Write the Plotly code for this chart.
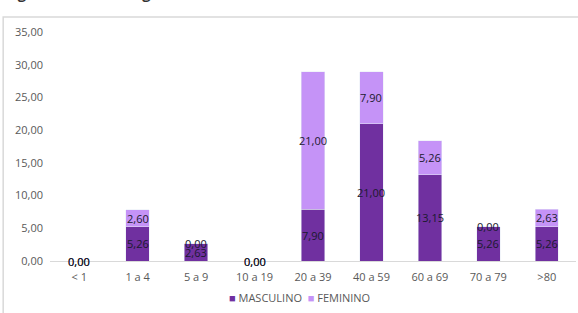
import plotly.graph_objects as go

categories = ["< 1", "1 a 4", "5 a 9", "10 a 19", "20 a 39", "40 a 59", "60 a 69", "70 a 79", ">80"]
masculino = [0.00, 5.26, 2.63, 0.00, 7.90, 21.00, 13.15, 5.26, 5.26]
feminino = [0.00, 2.60, 0.00, 0.00, 21.00, 7.90, 5.26, 0.00, 2.63]
y_ticks = [0, 5, 10, 15, 20, 25, 30, 35]
series_names = ["MASCULINO", "FEMININO"]
title_text = "segundo ano do diagnóstico 2022."

COL_M = "#7030A0"
COL_F = "#C593F7"
FONT = "Open Sans"

def fmt(v):
    return f"{v:.2f}".replace(".", ",")

fig = go.Figure()
fig.add_trace(go.Bar(name=series_names[0], x=categories, y=masculino, marker_color=COL_M))
fig.add_trace(go.Bar(name=series_names[1], x=categories, y=feminino, marker_color=COL_F))

annotations = []
for c, m, f in zip(categories, masculino, feminino):
    annotations.append(dict(x=c, y=m / 2, text=fmt(m), showarrow=False,
                            font=dict(family=FONT, size=11, color="#1a1a2e"),
                            xref="x", yref="y"))
    annotations.append(dict(x=c, y=m + f / 2, text=fmt(f), showarrow=False,
                            font=dict(family=FONT, size=11, color="#1a1a2e"),
                            xref="x", yref="y"))

annotations.append(dict(x=-0.096, y=1.0, xref="paper", yref="paper", xanchor="left",
                        yanchor="bottom", yshift=26.5, text="<b>" + title_text + "</b>", showarrow=False,
                        font=dict(family=FONT, size=14.5, color="#333333")))

# legend drawn as text with coloured squares
legend_text = (f'<span style="color:{COL_M}">■</span> {series_names[0]}'
               f'&nbsp;&nbsp;<span style="color:{COL_F}">■</span> {series_names[1]}')
annotations.append(dict(x=0.475, y=-0.16, xref="paper", yref="paper", xanchor="center",
                        yanchor="middle", text=legend_text, showarrow=False,
                        font=dict(family=FONT, size=11, color="#595959")))

fig.update_layout(
    width=578, height=313,
    margin=dict(l=50, r=2, t=32, b=52, autoexpand=False),
    paper_bgcolor="white", plot_bgcolor="white",
    barmode="stack", bargap=0.6, showlegend=False,
    font=dict(family=FONT, size=11, color="#595959"),
    xaxis=dict(showgrid=False, showline=True, linecolor="#d9d9d9", linewidth=1,
               ticks="", ticklabelstandoff=6, automargin=False,
               tickfont=dict(size=11, color="#595959")),
    yaxis=dict(range=[0, 35], tickvals=y_ticks, ticktext=[fmt(v) for v in y_ticks],
               showgrid=False, zeroline=False, showline=False, ticks="", automargin=False,
               ticklabelstandoff=6, tickfont=dict(size=11, color="#595959")),
    annotations=annotations,
    shapes=[dict(type="rect", xref="paper", yref="paper", x0=-0.089, x1=1.02,
                 y0=-0.3, y1=1.0655, line=dict(color="#d9d9d9", width=1.5), layer="below")],
)

fig.write_html("out.html", config={"displayModeBar": False},
               post_script="document.body.style.margin='0';")
